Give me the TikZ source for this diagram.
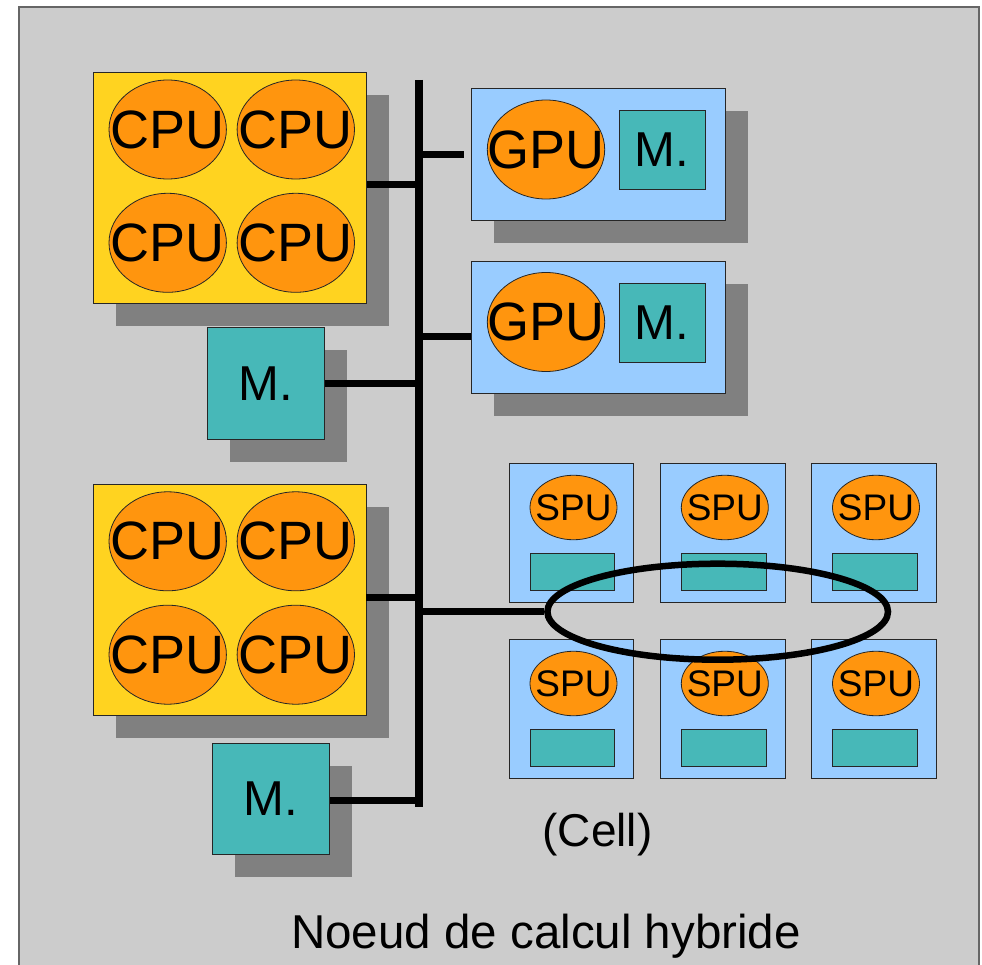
\documentclass[tikz,border=0pt]{standalone}
\usepackage{fontspec}
\setmainfont{Liberation Sans}
\usetikzlibrary{shapes.geometric,shadows,calc}
\definecolor{bggray}{HTML}{CCCCCC}
\definecolor{bordergray}{HTML}{666666}
\definecolor{shadowgray}{HTML}{808080}
\definecolor{gold}{HTML}{FFD320}
\definecolor{procorange}{HTML}{FF950E}
\definecolor{skyblue}{HTML}{99CCFF}
\definecolor{memteal}{HTML}{47B8B8}
\tikzset{
  shadowed/.style={general shadow={fill=shadowgray, shadow xshift=22.5pt, shadow yshift=-22.5pt}},
  boxbase/.style={rectangle, draw=black!85, line width=0.9pt, inner sep=0pt},
  cpubox/.style={boxbase, shadowed, fill=gold, minimum width=272.6pt, minimum height=231pt},
  membox/.style={boxbase, shadowed, fill=memteal, minimum width=117.2pt, minimum height=111.3pt, font=\fontsize{49}{49}\selectfont},
  gpubox/.style={boxbase, shadowed, fill=skyblue, minimum width=253.6pt, minimum height=132.2pt},
  innermem/.style={boxbase, fill=memteal, minimum width=86pt, minimum height=79.4pt, font=\fontsize{49}{49}\selectfont},
  spubox/.style={boxbase, fill=skyblue, minimum width=124.5pt, minimum height=138.5pt},
  spumem/.style={boxbase, fill=memteal, minimum width=84.4pt, minimum height=37.6pt},
  bigproc/.style={ellipse, draw=black!85, line width=0.8pt, fill=procorange, inner sep=0pt, minimum width=117.4pt, minimum height=99pt},
  bigtxt/.style={font=\fontsize{54}{54}\selectfont, inner sep=0pt},
  spuproc/.style={ellipse, draw=black!85, line width=0.8pt, fill=procorange, inner sep=0pt, minimum width=87pt, minimum height=64.5pt},
  spulbl/.style={font=\fontsize{37}{37}\selectfont, inner sep=0pt},
  conn/.style={line width=7pt, black},
  busline/.style={line width=7.3pt, black},
}
\begin{document}
\begin{tikzpicture}[x=1pt,y=-1pt]
\useasboundingbox (0,0) rectangle (982,965);
\clip (0,0) rectangle (982,965);
\draw[draw=bordergray, line width=1.6pt, fill=bggray] (18.7,7.3) rectangle (978.7,990);

% CPU boxes
\node[cpubox] (cpu1) at (230,187.7) {};
\foreach \nm/\px/\py in {a/167.7/129.5, b/295.8/129.5, c/167.7/242.8, d/295.8/242.8}
  \node[bigproc, label={[bigtxt]center:CPU}] (cpu1\nm) at (\px,\py) {};
\node[cpubox] (cpu2) at (229.7,599.7) {};
\foreach \nm/\px/\py in {a/167.7/541.3, b/295.8/541.3, c/167.7/654.7, d/295.8/654.7}
  \node[bigproc, label={[bigtxt]center:CPU}] (cpu2\nm) at (\px,\py) {};

% memories
\node[membox] (m1) at (265.8,383.5) {M.};
\node[membox] (m2) at (270.7,798.8) {M.};

% GPU boxes
\node[gpubox] (gpu1) at (598.5,154.8) {};
\node[bigproc, label={[bigtxt]center:GPU}] (gpu1p) at (546,149.5) {};
\node[innermem] (gpu1m) at (662,150) {M.};
\node[gpubox] (gpu2) at (598.5,327.3) {};
\node[bigproc, label={[bigtxt]center:GPU}] (gpu2p) at (546,322) {};
\node[innermem] (gpu2m) at (662,322.8) {M.};

% Cell SPUs
\foreach \nm/\px in {a/571.5, b/722.8, c/874} {
  \foreach \r/\py in {1/533, 2/709} {
    \node[spubox] (spu\nm\r) at (\px,\py) {};
    \node[spuproc, label={[spulbl]center:SPU}] (spu\nm\r p) at (\px+2,\py-25.5) {};
    \node[spumem] (spu\nm\r m) at (\px+1,\py+38.8) {};
  }
}

% bus
\coordinate (bustop) at (419,80);
\coordinate (busbot) at (419,806.7);
\draw[busline] (bustop) -- (busbot);

% ring of the Cell
\node[ellipse, draw=black, line width=6.5pt, inner sep=0pt, minimum width=340.6pt, minimum height=96pt] (cell) at (717.7,611.7) {};

% connector end points
\coordinate (c1) at ($(cpu1.east)+(0,-2.7)$);
\coordinate (g1) at ($(gpu1.west)+(-7.7,0)$);
\coordinate (g2) at ($(gpu2.west)+(0,9.4)$);
\coordinate (c2) at ($(cpu2.east)+(0,-2)$);
\coordinate (mm2) at ($(m2.east)+(0,1.2)$);

% connectors
\draw[conn] (c1) -- (c1 -| bustop);
\draw[conn] (g1) -- (g1 -| bustop);
\draw[conn] (g2) -- (g2 -| bustop);
\draw[conn] (m1.east) -- (m1.east -| bustop);
\draw[conn] (c2) -- (c2 -| bustop);
\draw[conn] (cell.west) -- (cell.west -| bustop);
\draw[conn] (mm2) -- (mm2 -| bustop);

% texts
\node[font=\fontsize{46}{46}\selectfont, anchor=base, inner sep=0pt] (celltxt) at (597.5,846.7) {(Cell)};
\node[font=\fontsize{47.5}{47.5}\selectfont, anchor=base, inner sep=0pt] (title) at (546,948.3) {Noeud de calcul hybride};
\end{tikzpicture}
\end{document}
